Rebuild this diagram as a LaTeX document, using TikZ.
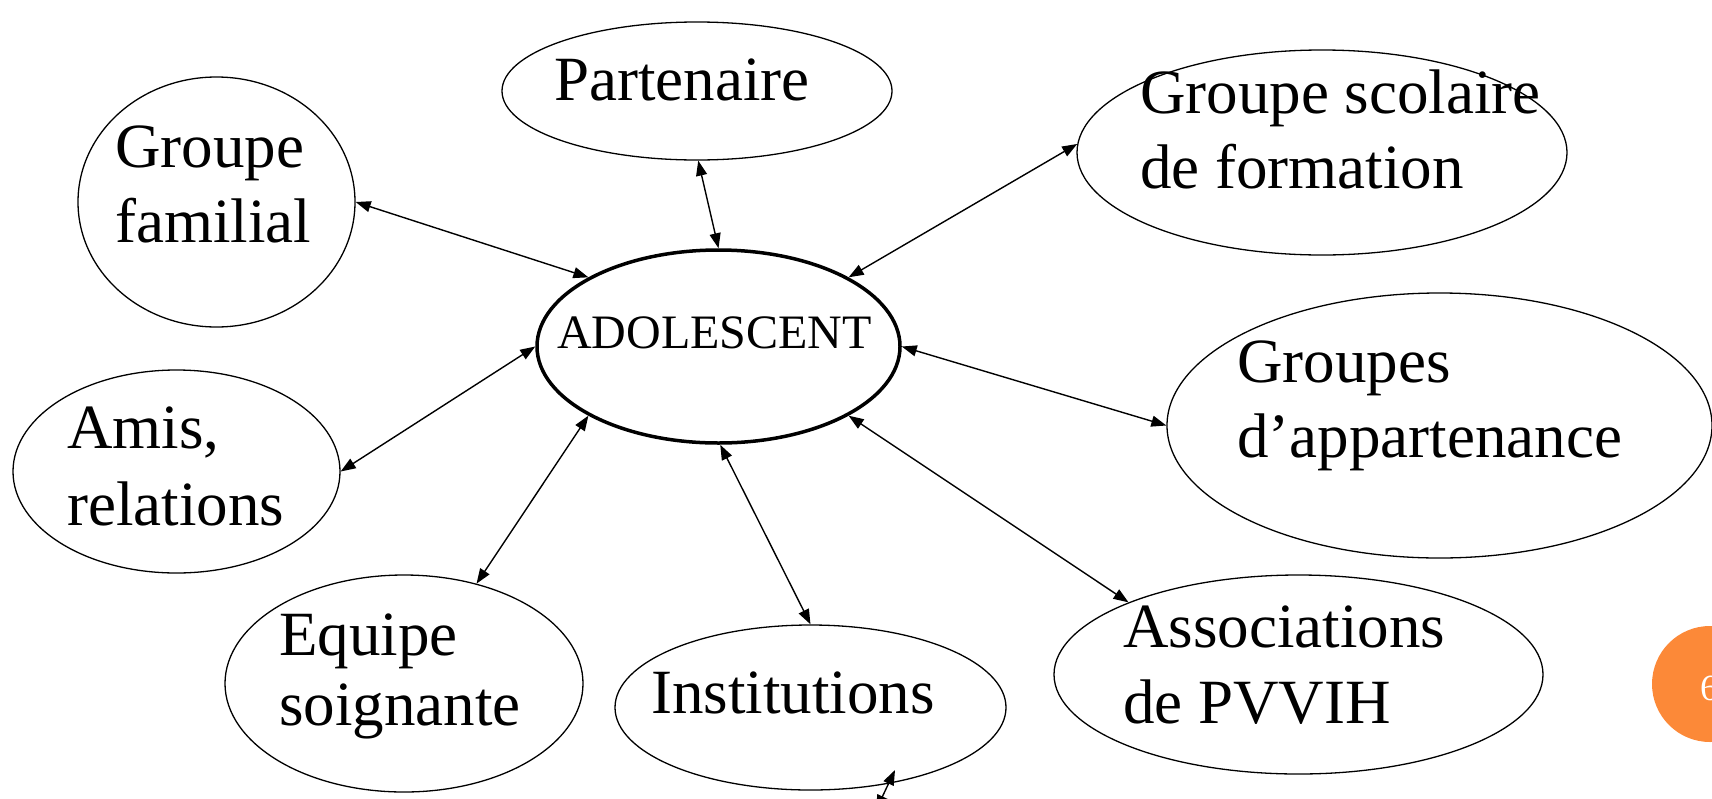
\documentclass[tikz,border=0pt]{standalone}
\usepackage{fontspec}
\setmainfont{Liberation Serif}
\usetikzlibrary{shapes.geometric,arrows.meta}
\definecolor{slideorange}{RGB}{252,137,56}
\begin{document}
\begin{tikzpicture}[x=1pt,y=-1pt,
  bubble/.style={ellipse,draw,line width=1.3pt,inner sep=0pt},
  lbl/.style={anchor=base west,inner sep=0pt,font=\fontsize{63}{75}\selectfont},
  link/.style={line width=1.4pt,{Triangle[length=15pt,width=11pt]}-{Triangle[length=15pt,width=11pt]}}
]
\useasboundingbox (0,0) rectangle (1712,798);
\clip (0,0) rectangle (1712,798);

% ellipses
\node[bubble,minimum width=390pt,minimum height=138pt] (part) at (697,91) {};
\node[bubble,minimum width=277pt,minimum height=250pt] (fam) at (216.5,202) {};
\node[bubble,minimum width=490pt,minimum height=205pt] (scol) at (1322,152.5) {};
\node[bubble,line width=3.5pt,minimum width=363pt,minimum height=193pt] (adol) at (718.5,346.5) {};
\node[bubble,minimum width=545pt,minimum height=265pt] (app) at (1439.5,425.5) {};
\node[bubble,minimum width=327pt,minimum height=203pt] (amis) at (176.5,471.5) {};
\node[bubble,minimum width=358pt,minimum height=217pt] (equ) at (404,683.5) {};
\node[bubble,minimum width=391pt,minimum height=165pt] (inst) at (810.5,707.5) {};
\node[bubble,minimum width=489pt,minimum height=199pt] (asso) at (1298.5,674.5) {};

% page number badge
\node[circle,fill=slideorange,minimum size=116pt,inner sep=0pt] (pg) at (1710,684) {};
\node[anchor=base west,inner sep=0pt,text=white,font=\fontsize{37}{44}\selectfont] (pgnum) at (1700,700) {6};

% labels
\node[lbl] (famA) at (115,167) {Groupe};
\node[lbl] (famB) at (115,242) {familial};
\node[lbl] (partA) at (554,100) {Partenaire};
\node[lbl] (scolA) at (1140,113) {Groupe scolaire};
\node[lbl] (scolB) at (1140,188) {de formation};
\node[anchor=base west,inner sep=0pt,font=\fontsize{48}{56}\selectfont] (adolA) at (557,348) {ADOLESCENT};
\node[lbl] (appA) at (1237,382) {Groupes};
\node[lbl] (appB) at (1237,457) {d’appartenance};
\node[lbl] (amisA) at (67,448) {Amis,};
\node[lbl] (amisB) at (67,525) {relations};
\node[lbl] (equA) at (279,655) {Equipe};
\node[lbl] (equB) at (279,725) {soignante};
\node[lbl] (instA) at (651,713) {Institutions};
\node[lbl] (assoA) at (1123,647) {Associations};
\node[lbl] (assoB) at (1123,723) {de PVVIH};

% connectors
\draw[link] (fam.0) -- (adol.152);
\draw[link] (part.-89) -- (adol.90);
\draw[link] (scol.178) -- (adol.28);
\draw[link] (adol.0) -- (app.180);
\draw[link] (adol.-28) -- (asso.157.6);
\draw[link] (adol.-89) -- (inst.90);
\draw[link] (adol.-152) -- (equ.54);
\draw[link] (adol.180) -- (amis.0);
\coordinate (strayA) at (895,770);
\coordinate (strayB) at (876,810);
\draw[link] (strayA) -- (strayB);
\end{tikzpicture}
\end{document}
